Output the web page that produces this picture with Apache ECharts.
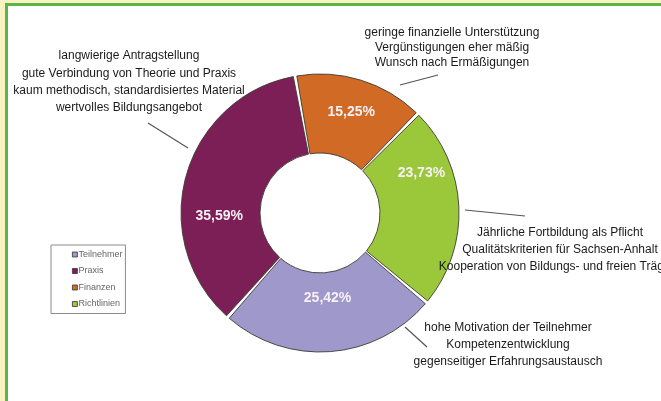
<!DOCTYPE html>
<html>
<head>
<meta charset="utf-8">
<script src="https://cdn.jsdelivr.net/npm/echarts@6/dist/echarts.min.js"></script>
<style>
    html, body { margin: 0; padding: 0; }
    body { width: 661px; height: 401px; background: #f9f3c4; position: relative; overflow: hidden; }
    #frame { position: absolute; left: 5px; top: 3px; width: 660px; height: 410px; background: #fff;
             border-left: 3px solid #5db447; border-top: 3px solid #5db447; }
    #main { position: absolute; left: 0; top: 0; width: 661px; height: 401px; }
</style>
</head>
<body>
<div id="frame"></div>
<div id="main"></div>
<script>
// Kategorien (Reihenfolge wie in der Legende)
var categories = ["Teilnehmer", "Praxis", "Finanzen", "Richtlinien"];
// Anteile in Prozent
var values = [25.42, 35.59, 15.25, 23.73];
// Anmerkungen zu jedem Segment
var notesTeilnehmer = ["hohe Motivation der Teilnehmer", "Kompetenzentwicklung", "gegenseitiger Erfahrungsaustausch"];
var notesPraxis = ["langwierige Antragstellung", "gute Verbindung von Theorie und Praxis", "kaum methodisch, standardisiertes Material", "wertvolles Bildungsangebot"];
var notesFinanzen = ["geringe finanzielle Unterstützung", "Vergünstigungen eher mäßig", "Wunsch nach Ermäßigungen"];
var notesRichtlinien = ["Jährliche Fortbildung als Pflicht", "Qualitätskriterien für Sachsen-Anhalt", "Kooperation von Bildungs- und freien Trägern"];
var notes = [notesTeilnehmer, notesPraxis, notesFinanzen, notesRichtlinien];

var colors = ["#9f98ca", "#7d1f57", "#d06a24", "#9bc83b"];

// Verschiebung der Prozentangaben innerhalb der Segmente
var pctOffset = [[0, -17], [-2, 31], [1, -3], [-1, -35]];
// Lage der Anmerkungsblöcke und ihrer Hinweislinien
var noteBox = [
    { x: 508, y: 345, lh: 17, line: [[405, 327], [427, 347]] },
    { x: 129, y: 82, lh: 17.3, line: [[188, 148], [148, 123]] },
    { x: 452, y: 48, lh: 15, line: [[400, 85], [438, 75]] },
    { x: 560, y: 250, lh: 17, line: [[465, 210], [525, 216]] }
];

var myChart = echarts.init(document.getElementById("main"));

var pieData = [];
var noteData = [];
categories.forEach(function(name, i) {
    pieData.push({
        name: name,
        value: values[i],
        itemStyle: { color: colors[i] },
        label: { offset: pctOffset[i] }
    });
    noteData.push({
        name: name,
        value: values[i],
        label: { lineHeight: noteBox[i].lh }
    });
});

var option = {
    animation: false,
    legend: {
        orient: "vertical",
        left: 51,
        top: 245,
        data: categories,
        icon: "rect",
        itemWidth: 5,
        itemHeight: 5,
        itemGap: 7.5,
        padding: [5, 3, 5, 21],
        borderColor: "#8a8a8a",
        borderWidth: 1,
        itemStyle: { borderColor: "#333", borderWidth: 0.8 },
        textStyle: { fontSize: 9, color: "#666", fontFamily: "Liberation Sans, Arial, sans-serif", padding: [0, 0, 0, -4] },
        selectedMode: false
    },
    series: [{
        name: "Anteile",
        type: "pie",
        center: [320, 213],
        radius: [60, 139],
        startAngle: -40,
        padAngle: 1.5,
        clockwise: true,
        silent: true,
        data: pieData,
        itemStyle: { borderColor: "#3d3b33", borderWidth: 0.9 },
        label: {
            show: true,
            position: "inside",
            color: "#f7f0f7",
            fontSize: 14,
            fontWeight: "bold",
            fontFamily: "Liberation Sans, Arial, sans-serif",
            formatter: function(p) {
                return p.value.toFixed(2).replace(".", ",") + "%";
            }
        },
        labelLine: { show: false }
    }, {
        name: "Anmerkungen",
        type: "pie",
        center: [320, 213],
        radius: [60, 139],
        startAngle: -40,
        clockwise: true,
        silent: true,
        data: noteData,
        itemStyle: { color: "rgba(0,0,0,0)", borderWidth: 0 },
        label: {
            show: true,
            position: "outside",
            color: "#1a1a1a",
            fontSize: 12,
            fontFamily: "Liberation Sans, Arial, sans-serif",
            align: "center",
            overflow: "none",
            width: 400,
            formatter: function(p) {
                return notes[p.dataIndex].join("\n");
            }
        },
        labelLine: { show: true, lineStyle: { color: "#555", width: 1.2 } },
        labelLayout: function(p) {
            var b = noteBox[p.dataIndex];
            var a = b.line[0], c = b.line[1];
            return {
                x: b.x,
                y: b.y,
                align: "center",
                verticalAlign: "middle",
                labelLinePoints: [a, [(a[0] + c[0]) / 2, (a[1] + c[1]) / 2], c]
            };
        }
    }]
};

myChart.setOption(option);
</script>
</body>
</html>
